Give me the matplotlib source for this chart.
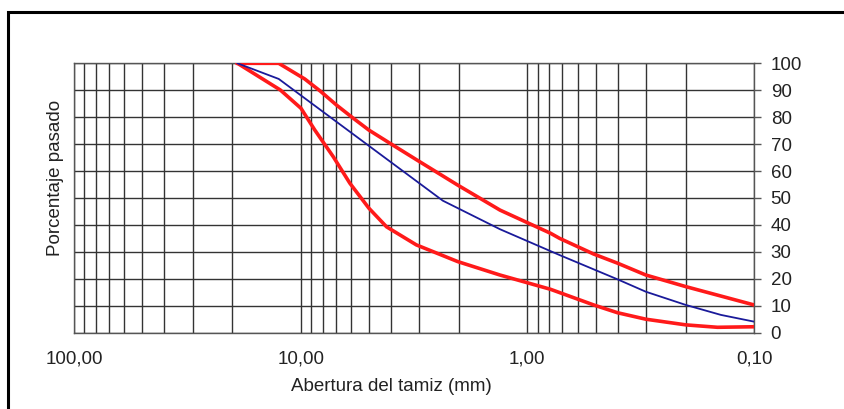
import matplotlib
matplotlib.use('Agg')
import matplotlib.pyplot as plt
from matplotlib.patches import Rectangle
from matplotlib.ticker import FixedLocator, NullFormatter

plt.rcParams['font.family'] = ['Liberation Sans', 'DejaVu Sans']

# curva granulométrica (abertura en mm, % pasado)
tamiz_real = [19.0, 12.5, 2.36, 1.32, 0.72, 0.4, 0.3, 0.2, 0.14, 0.1]
pasa_real = [100, 94.2, 49.0, 38.4, 28.8, 19.8, 15.2, 10.3, 6.6, 4.1]

# límite superior de la banda
tamiz_sup = [19.0, 12.5, 9.6, 8.2, 6.95, 5.86, 5.0, 3.93, 2.99, 2.03,
             1.32, 0.79, 0.72, 0.51, 0.4, 0.3, 0.2, 0.1]
pasa_sup = [100, 100, 94.2, 89.7, 84.5, 79.6, 75.2, 69.7, 63.5, 54.8,
            45.5, 36.9, 35.0, 29.2, 25.8, 21.4, 17.1, 10.3]

# límite inferior de la banda
tamiz_inf = [19.0, 12.3, 9.97, 8.66, 7.18, 6.07, 5.0, 4.18, 3.09, 2.03,
             1.32, 0.79, 0.51, 0.4, 0.3, 0.2, 0.145, 0.1]
pasa_inf = [100, 90.1, 83.3, 75.2, 65.3, 55.5, 46.2, 39.3, 32.6, 26.4,
            21.4, 16.1, 10.3, 7.4, 5.0, 2.9, 2.0, 2.2]

x_ticks = [100, 10, 1, 0.1]
x_labels = ['100,00', '10,00', '1,00', '0,10']
y_ticks = list(range(0, 101, 10))

fig = plt.figure(figsize=(8.44, 4.09), dpi=100)
ax = fig.add_axes([0.0877, 0.1866, 0.8057, 0.6586])

ax.set_xscale('log')
ax.set_xlim(100, 0.1)
ax.set_ylim(0, 100)

# rejilla logarítmica completa
minor = [m * 10.0 ** e for e in (-1, 0, 1) for m in range(2, 10)]
ax.xaxis.set_major_locator(FixedLocator(x_ticks))
ax.xaxis.set_minor_locator(FixedLocator(minor))
ax.xaxis.set_minor_formatter(NullFormatter())
ax.set_xticklabels(x_labels)
ax.set_yticks(y_ticks)
ax.grid(True, which='both', color='#333333', linewidth=1.0)
ax.tick_params(axis='x', which='both', length=0, pad=13, labelsize=13.5, colors='#222222')
ax.tick_params(axis='y', left=False, labelleft=False, right=True, labelright=True,
               length=5, width=1, color='#555555', pad=7, labelsize=13.5, labelcolor='#222222')
for s in ax.spines.values():
    s.set_color('#555555')
    s.set_linewidth(1)

ax.plot(tamiz_sup, pasa_sup, color='#ff1a1a', linewidth=2.6, zorder=3, solid_joinstyle='round')
ax.plot(tamiz_inf, pasa_inf, color='#ff1a1a', linewidth=2.6, zorder=3, solid_joinstyle='round')
ax.plot(tamiz_real, pasa_real, color='#1a1a9a', linewidth=1.3, zorder=4)

ax.set_xlabel('Abertura del tamiz (mm)', fontsize=13.5, color='#222222')
ax.xaxis.set_label_coords(0.466, -0.17)
ax.set_ylabel('Porcentaje pasado', fontsize=13.5, color='#222222')
ax.yaxis.set_label_position('left')
ax.yaxis.set_label_coords(-0.015, 0.574)

# marco exterior (recortado a la derecha y abajo)
fig.patches.append(Rectangle((8 / 844, -0.2), 1.2, 1.2 - 12 / 409, transform=fig.transFigure,
                             fill=False, edgecolor='black', linewidth=2.2))

fig.savefig('out.png', dpi=100)
